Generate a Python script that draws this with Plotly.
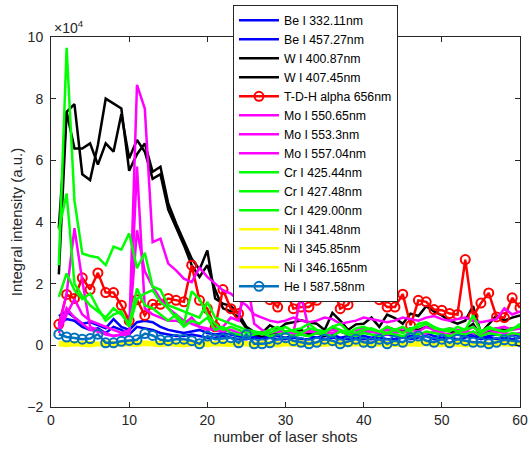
import plotly.graph_objects as go

shots = list(range(1, 61))

be_332 = [0.95, 1.10, 0.90, 0.70, 0.75, 0.65, 0.55, 0.85, 0.60, 0.50, 0.75, 0.80, 0.75, 0.60, 0.50, 0.45, 0.40, 0.45, 0.50, 0.40,
          0.35, 0.40, 0.35, 0.30, 0.25, 0.30, 0.25, 0.35, 0.30, 0.25, 0.30, 0.35, 0.30, 0.25, 0.30, 0.35, 0.25, 0.30, 0.35, 0.30,
          0.25, 0.30, 0.35, 0.30, 0.25, 0.30, 0.35, 0.40, 0.30, 0.25, 0.30, 0.35, 0.30, 0.40, 0.25, 0.30, 0.35, 0.30, 0.35, 0.30]
be_457 = [0.70, 0.85, 0.80, 0.60, 0.50, 0.55, 0.40, 0.60, 0.50, 0.35, 0.60, 0.55, 0.50, 0.40, 0.35, 0.30, 0.30, 0.35, 0.30, 0.25,
          0.25, 0.30, 0.25, 0.20, 0.20, 0.25, 0.20, 0.25, 0.20, 0.20, 0.25, 0.20, 0.20, 0.25, 0.20, 0.25, 0.20, 0.20, 0.25, 0.20,
          0.20, 0.25, 0.20, 0.20, 0.25, 0.20, 0.25, 0.30, 0.20, 0.20, 0.25, 0.20, 0.25, 0.30, 0.20, 0.25, 0.20, 0.25, 0.20, 0.25]
w_400 = [2.30, 7.57, 7.82, 5.55, 5.36, 6.50, 8.00, 7.85, 7.68, 5.66, 6.20, 6.55, 5.63, 5.79, 4.60, 3.95, 3.35, 2.81, 2.46, 3.08,
         1.52, 1.35, 1.27, 1.03, 0.60, 0.43, 0.40, 0.65, 0.50, 0.70, 0.75, 0.81, 0.75, 0.70, 0.50, 1.05, 0.80, 0.50, 0.68, 0.70,
         0.90, 0.60, 1.00, 0.88, 0.70, 1.03, 0.95, 1.27, 1.10, 0.97, 0.80, 0.70, 0.80, 1.27, 0.40, 0.70, 0.97, 0.80, 0.90, 0.97]
w_407 = [3.80, 7.57, 6.38, 6.38, 6.55, 5.86, 6.55, 6.28, 7.50, 6.07, 6.66, 6.28, 5.40, 5.55, 4.40, 3.84, 3.25, 2.60, 2.22, 2.60,
         1.80, 1.20, 1.10, 0.90, 0.55, 0.35, 0.30, 0.40, 0.35, 0.45, 0.40, 0.50, 0.35, 0.40, 0.30, 0.60, 0.45, 0.35, 0.40, 0.50,
         0.45, 0.40, 0.60, 0.50, 0.45, 0.55, 0.50, 0.60, 0.55, 0.50, 0.45, 0.40, 0.50, 0.70, 0.30, 0.45, 0.55, 0.50, 0.55, 0.60]
tdh_656 = [0.68, 1.65, 1.52, 2.19, 1.81, 2.35, 1.71, 1.71, 1.30, 0.80, 1.48, 0.97, 1.33, 1.33, 1.52, 1.46, 1.41, 2.60, 1.46, 1.19,
           0.60, 1.81, 1.19, 1.03, 1.84, 1.62, 1.79, 1.48, 1.24, 1.87, 1.19, 1.24, 1.24, 1.46, 1.65, 2.00, 1.19, 1.32, 1.87, 1.59,
           1.59, 1.48, 1.24, 1.24, 1.66, 0.65, 1.46, 1.41, 1.16, 1.14, 1.03, 1.00, 2.78, 0.94, 1.37, 1.70, 0.92, 0.90, 1.54, 1.22]
mo_550 = [0.50, 1.20, 0.90, 0.70, 0.50, 0.45, 0.35, 0.30, 0.35, 0.40, 8.45, 7.68, 3.35, 3.46, 2.65, 2.43, 2.16, 2.05, 2.52, 2.22,
          2.00, 1.78, 1.68, 1.46, 1.30, 1.00, 0.90, 0.80, 0.75, 0.80, 0.90, 0.80, 0.75, 0.80, 0.90, 0.85, 0.70, 0.75, 0.80, 0.90,
          0.85, 0.80, 0.75, 0.80, 0.90, 0.85, 0.80, 0.90, 0.95, 0.85, 0.80, 0.85, 0.90, 0.80, 0.75, 0.80, 0.85, 1.20, 1.00, 1.10]
mo_553 = [0.60, 1.68, 3.80, 2.10, 0.60, 0.50, 0.40, 0.30, 0.35, 0.30, 5.80, 1.20, 1.00, 0.90, 0.80, 0.80, 0.70, 0.90, 0.60, 0.50,
          0.55, 0.60, 0.90, 0.80, 2.27, 0.70, 0.50, 0.40, 0.50, 0.45, 0.40, 1.62, 0.50, 0.45, 0.40, 0.50, 0.45, 0.40, 0.50, 0.55,
          0.45, 0.40, 0.50, 0.45, 0.55, 0.50, 0.45, 0.60, 0.50, 0.45, 0.55, 0.50, 0.45, 0.60, 0.40, 0.50, 0.55, 0.60, 0.50, 0.55]
mo_557 = [0.40, 1.00, 1.50, 1.00, 0.80, 0.70, 0.60, 0.50, 0.40, 0.50, 3.73, 2.40, 1.90, 1.50, 1.20, 1.00, 0.80, 0.70, 0.60, 0.55,
          0.50, 0.45, 0.50, 0.40, 0.45, 0.40, 0.35, 0.40, 0.45, 0.40, 0.35, 0.40, 0.45, 0.40, 0.35, 0.40, 0.45, 0.40, 0.35, 0.40,
          0.45, 0.40, 0.35, 0.40, 0.45, 0.40, 0.35, 0.40, 0.45, 0.40, 0.35, 0.40, 0.45, 0.40, 0.35, 0.40, 0.45, 0.40, 0.35, 0.40]
cr_425 = [2.60, 9.65, 4.70, 2.98, 2.90, 2.85, 2.60, 3.20, 3.10, 3.63, 2.50, 3.00, 1.90, 1.80, 1.30, 1.20, 1.10, 1.00, 0.90, 1.40,
          0.90, 0.80, 0.70, 0.60, 0.50, 0.45, 0.40, 0.50, 0.60, 0.45, 0.50, 0.55, 0.70, 0.50, 0.45, 0.60, 0.50, 0.40, 0.55, 0.60,
          0.50, 0.45, 0.60, 0.50, 0.40, 0.55, 0.60, 0.70, 0.55, 0.50, 0.45, 0.60, 0.50, 0.97, 0.45, 0.60, 0.50, 0.45, 0.55, 0.60]
cr_427 = [3.75, 4.92, 2.00, 1.60, 1.30, 1.10, 0.90, 1.20, 1.00, 0.70, 1.84, 1.30, 1.20, 1.00, 0.80, 1.00, 0.70, 1.75, 1.50, 1.00,
          0.70, 0.50, 0.60, 0.50, 0.40, 0.45, 0.35, 0.40, 0.50, 0.60, 0.45, 0.40, 0.55, 0.50, 0.40, 0.60, 0.70, 0.45, 0.40, 0.50,
          0.55, 0.45, 0.40, 0.50, 0.60, 0.45, 0.70, 0.75, 0.60, 0.50, 0.55, 0.45, 0.50, 0.60, 0.40, 0.55, 0.50, 0.45, 0.50, 0.70]
cr_429 = [1.57, 2.33, 1.79, 1.50, 1.68, 1.20, 0.80, 1.00, 1.10, 0.60, 1.50, 1.68, 1.79, 1.40, 1.20, 0.90, 0.60, 0.80, 0.70, 0.90,
          0.50, 0.60, 0.40, 0.35, 0.30, 0.35, 0.40, 0.30, 0.35, 0.40, 0.30, 0.35, 0.30, 0.40, 0.35, 0.30, 0.45, 0.35, 0.30, 0.40,
          0.35, 0.30, 0.40, 0.35, 0.30, 0.40, 0.35, 0.45, 0.40, 0.35, 0.30, 0.40, 0.35, 0.45, 0.30, 0.40, 0.35, 0.30, 0.40, 0.35]
ni_341 = [0.05, 0.04, 0.06, 0.05, 0.03, 0.05, 0.04, 0.06, 0.05, 0.04, 0.06, 0.05, 0.04, 0.05, 0.06, 0.04, 0.05, 0.03, 0.05, 0.04,
          0.06, 0.05, 0.04, 0.05, 0.06, 0.04, 0.05, 0.04, 0.06, 0.05, 0.04, 0.05, 0.06, 0.04, 0.05, 0.04, 0.06, 0.05, 0.04, 0.05,
          0.06, 0.04, 0.05, 0.04, 0.06, 0.05, 0.04, 0.05, 0.06, 0.04, 0.05, 0.04, 0.06, 0.05, 0.04, 0.05, 0.06, 0.04, 0.05, 0.04]
ni_345 = [0.00, -0.02, 0.01, 0.00, -0.03, 0.01, 0.00, -0.02, 0.01, 0.00, -0.01, 0.02, 0.00, -0.02, 0.01, 0.00, -0.03, 0.01, 0.00, -0.02,
          0.01, 0.00, -0.01, 0.02, 0.00, -0.02, 0.01, 0.00, -0.03, 0.01, 0.00, -0.02, 0.01, 0.00, -0.01, 0.02, 0.00, -0.02, 0.01, 0.00,
          -0.03, 0.01, 0.00, -0.02, 0.01, 0.00, -0.01, 0.02, 0.00, -0.02, 0.01, 0.00, -0.03, 0.01, 0.00, -0.02, 0.01, 0.00, -0.01, 0.02]
ni_346 = [0.10, 0.12, 0.09, 0.11, 0.10, 0.08, 0.12, 0.10, 0.09, 0.11, 0.10, 0.12, 0.09, 0.11, 0.10, 0.08, 0.12, 0.10, 0.09, 0.11,
          0.10, 0.12, 0.09, 0.11, 0.10, 0.08, 0.12, 0.10, 0.09, 0.11, 0.10, 0.12, 0.09, 0.11, 0.10, 0.08, 0.12, 0.10, 0.09, 0.11,
          0.10, 0.12, 0.09, 0.11, 0.10, 0.08, 0.12, 0.10, 0.09, 0.11, 0.10, 0.12, 0.09, 0.11, 0.10, 0.08, 0.12, 0.10, 0.09, 0.11]
he_587 = [0.36, 0.27, 0.24, 0.20, 0.22, 0.36, 0.08, 0.08, 0.13, 0.16, 0.18, 0.38, 0.32, 0.18, 0.15, 0.20, 0.20, 0.15, 0.05, 0.30,
          0.20, 0.22, 0.25, 0.08, 0.35, 0.05, 0.05, 0.08, 0.20, 0.25, 0.15, 0.10, 0.05, 0.10, 0.20, 0.15, 0.05, 0.12, 0.20, 0.10,
          0.08, 0.20, 0.05, 0.15, 0.10, 0.25, 0.30, 0.15, 0.10, 0.20, 0.08, 0.20, 0.15, 0.10, 0.10, 0.05, 0.10, 0.18, 0.15, 0.12]

series = [
    ("Be I 332.11nm", be_332, "#0000FF", False),
    ("Be I 457.27nm", be_457, "#0000FF", False),
    ("W I 400.87nm", w_400, "#000000", False),
    ("W I 407.45nm", w_407, "#000000", False),
    ("T-D-H alpha 656nm", tdh_656, "#FF0000", True),
    ("Mo I 550.65nm", mo_550, "#FF00FF", False),
    ("Mo I 553.3nm", mo_553, "#FF00FF", False),
    ("Mo I 557.04nm", mo_557, "#FF00FF", False),
    ("Cr I 425.44nm", cr_425, "#00FF00", False),
    ("Cr I 427.48nm", cr_427, "#00FF00", False),
    ("Cr I 429.00nm", cr_429, "#00FF00", False),
    ("Ni I 341.48nm", ni_341, "#FFFF00", False),
    ("Ni I 345.85nm", ni_345, "#FFFF00", False),
    ("Ni I 346.165nm", ni_346, "#FFFF00", False),
    ("He I 587.58nm", he_587, "#0072BD", True),
]

fig = go.Figure()
for name, vals, color, markers in series:
    fig.add_trace(go.Scatter(
        x=shots, y=vals, name=name,
        mode="lines+markers" if markers else "lines",
        line=dict(color=color, width=2.5),
        marker=dict(symbol="circle-open", size=9, color=color, line=dict(width=2, color=color)),
    ))

axis_color = "#262626"
fig.update_layout(
    width=530, height=451,
    margin=dict(l=51, r=10, t=37, b=44, autoexpand=False),
    paper_bgcolor="white", plot_bgcolor="white",
    font=dict(family="Liberation Sans, Arial, sans-serif", size=14, color=axis_color),
    showlegend=True,
    legend=dict(x=0.388, y=1.087, xanchor="left", yanchor="top",
                bgcolor="white", bordercolor=axis_color, borderwidth=1,
                font=dict(family="Liberation Sans, Arial, sans-serif", size=12.3, color="#000000"),
                tracegroupgap=0, itemwidth=40, maxheight=440),
    xaxis=dict(range=[0, 60], tickvals=[0, 10, 20, 30, 40, 50, 60],
               ticks="inside", ticklen=5, tickcolor=axis_color,
               showline=True, linecolor=axis_color, linewidth=1, mirror="ticks",
               showgrid=False, zeroline=False,
               title=dict(text="number of laser shots", font=dict(size=15), standoff=4)),
    yaxis=dict(range=[-2, 10], tickvals=[-2, 0, 2, 4, 6, 8, 10],
               ticks="inside", ticklen=5, tickcolor=axis_color,
               showline=True, linecolor=axis_color, linewidth=1, mirror="ticks",
               showgrid=False, zeroline=False, ticklabelstandoff=4,
               title=dict(text="Integral intensity (a.u.)", font=dict(size=15), standoff=0)),
    annotations=[dict(text="×10<sup>4</sup>", xref="paper", yref="paper", x=0.003, y=1.0,
                      xanchor="left", yanchor="bottom", showarrow=False, yshift=-1,
                      font=dict(size=14, color=axis_color))],
)

fig.write_html("out.html", config={"displayModeBar": False},
               post_script="document.body.style.margin='0';document.body.style.padding='0';")
